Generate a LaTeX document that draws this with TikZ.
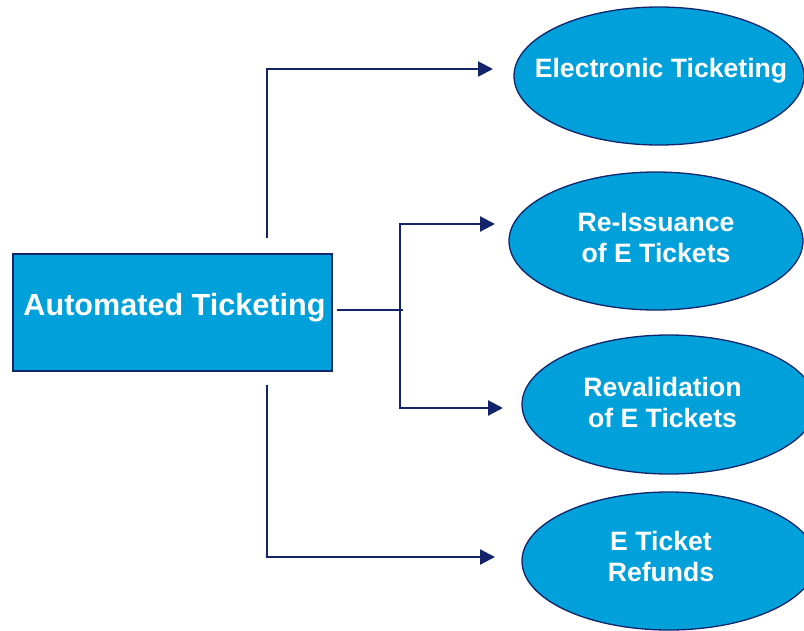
\documentclass[tikz,border=0pt]{standalone}
\usepackage{fontspec}
\setmainfont{Liberation Sans}
\usetikzlibrary{shapes.geometric,arrows.meta,calc}
\definecolor{navy}{RGB}{18,36,106}
\definecolor{skyfill}{RGB}{0,160,218}
\begin{document}
\begin{tikzpicture}[x=1pt,y=-1pt,
  conn/.style={draw=navy,line width=2.2pt},
  arr/.style={conn,-{Triangle[length=15pt,width=15pt]}},
  ell/.style={ellipse,draw=navy,line width=1.3pt,fill=skyfill,inner sep=0pt,minimum width=292pt,minimum height=138pt},
  etext/.style={text=white,font=\fontsize{26.6}{31}\selectfont\bfseries,align=center,inner sep=0pt},
  boxstyle/.style={draw=navy,line width=2pt,fill=skyfill,minimum width=319pt,minimum height=117pt,inner sep=0pt}]
\useasboundingbox (0,0) rectangle (804,630);
% main box
\node[boxstyle] (box) at (172,312) {};
\node[etext,font=\fontsize{30.6}{36}\selectfont\bfseries] (bt) at (174.5,308) {Automated Ticketing};
% ellipses
\node[ell,minimum width=290pt] (e1) at (659,76) {};
\node[etext] (t1) at (661,71) {Electronic Ticketing};
\node[ell,minimum width=294pt] (e2) at (656,241) {};
\node[etext] (t2) at (656,238) {Re-Issuance\\of E Tickets};
\node[ell,minimum width=294pt,minimum height=139pt] (e3) at (669,404.5) {};
\node[etext] (t3) at (662.5,402) {Revalidation\\of E Tickets};
\node[ell,minimum width=294pt] (e4) at (669,561) {};
\node[etext] (t4) at (661,556) {E Ticket\\Refunds};
% connector coordinates
\coordinate (j) at (400,310);
\coordinate (s1) at (267,238);
\coordinate (a1) at (493,69);
\coordinate (a2) at (495,224);
\coordinate (a3) at (503,408);
\coordinate (s4) at (267,385);
\coordinate (a4) at (495,557);
% connectors
\draw[conn] ([xshift=4pt]box.east |- j) -- ([xshift=3pt]j);
\draw[arr] (j) |- (a2);
\draw[arr] (j) |- (a3);
\draw[arr] (s1) |- (a1);
\draw[arr] (s4) |- (a4);
\end{tikzpicture}
\end{document}
